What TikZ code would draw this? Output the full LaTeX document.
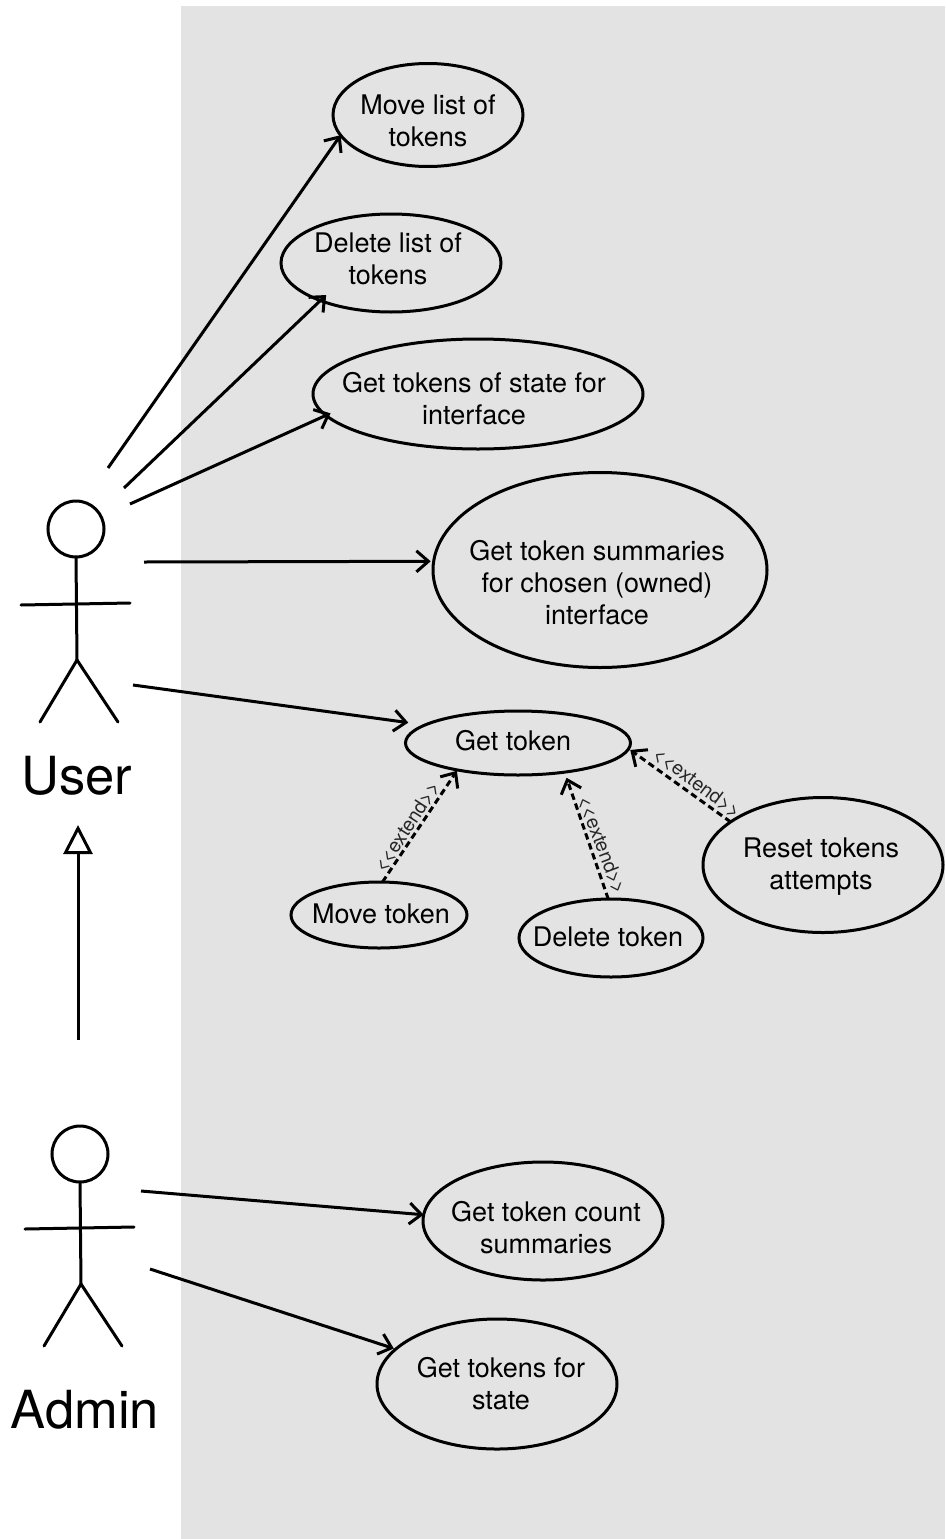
\documentclass[tikz,border=0pt]{standalone}
\usepackage{fontspec}
\setmainfont{TeX Gyre Heros}
\usetikzlibrary{shapes.geometric,arrows.meta}
\tikzset{
  x=1pt,y=-1pt,
  base/.style={line width=3pt,draw=black},
  usecase/.style={ellipse,base,inner sep=0pt,outer sep=0pt},
  uctext/.style={align=center,inner sep=0pt,font=\fontsize{27}{32}\selectfont,text=black},
  actorname/.style={inner sep=0pt,font=\fontsize{52.5}{56}\selectfont,text=black},
  extlabel/.style={inner sep=0pt,font=\fontsize{19.5}{21}\selectfont,text=black!85},
  stick/.style={base,line cap=round},
  assoc/.style={base,-{Straight Barb[length=12pt,width=21pt,line width=3pt]}},
  extendarrow/.style={base,dash pattern=on 6.5pt off 4pt,-{Straight Barb[length=12pt,width=21pt,line width=3pt]}},
  general/.style={base,-{Triangle[open,length=29pt,width=29pt,line width=3pt]}},
}
\newcommand{\usecasenode}[8]{%
  \node[usecase,minimum width=#4pt,minimum height=#5pt] (#1) at (#2,#3) {};
  \node[uctext] (#1-text) at (#6,#7) {#8};}
\begin{document}
\begin{tikzpicture}
\useasboundingbox (0,0) rectangle (945,1539);
\fill[white] (0,0) rectangle (945,1539);
\fill[black!11] (181,6) rectangle (945,1539);

\usecasenode{movelist}{428}{115}{190}{103}{428}{121}{Move list of\\tokens}
\usecasenode{deletelist}{391}{263}{220}{98}{388}{259}{Delete list of\\tokens}
\usecasenode{stateiface}{478}{394}{330}{110}{474}{399}{Get tokens of state for\\interface}
\usecasenode{summaries}{600}{570}{334}{195}{597}{583}{Get token summaries\\for chosen (owned)\\interface}
\usecasenode{gettoken}{518}{743}{225}{64}{513}{741}{Get token}
\usecasenode{movetoken}{379}{915}{176}{66}{381}{914}{Move token}
\usecasenode{deletetoken}{611}{938}{184}{78}{608}{937}{Delete token}
\usecasenode{reset}{823}{865}{240}{135}{821}{867}{Reset tokens\\attempts}
\usecasenode{countsum}{543}{1221}{240}{118}{546}{1228}{Get token count\\summaries}
\usecasenode{forstate}{497}{1384}{240}{130}{501}{1384}{Get tokens for\\state}

% User actor
\node[circle,base,inner sep=0pt,outer sep=0pt,minimum size=56pt] (userhead) at (76,529) {};
\coordinate (userhip) at (77,660);
\coordinate (userarmL) at (21,605);
\coordinate (userarmR) at (130,603);
\coordinate (userfootL) at (40,722);
\coordinate (userfootR) at (118,722);
\draw[stick] (userhead.south) -- (userhip);
\draw[stick] (userarmL) -- (userarmR);
\draw[stick] (userfootL) -- (userhip) -- (userfootR);
\node[actorname] (username) at (77,776) {User};

% Admin actor
\node[circle,base,inner sep=0pt,outer sep=0pt,minimum size=56pt] (adminhead) at (80,1154) {};
\coordinate (adminhip) at (81,1284);
\coordinate (adminarmL) at (25,1229);
\coordinate (adminarmR) at (134,1227);
\coordinate (adminfootL) at (44,1346);
\coordinate (adminfootR) at (122,1346);
\draw[stick] (adminhead.south) -- (adminhip);
\draw[stick] (adminarmL) -- (adminarmR);
\draw[stick] (adminfootL) -- (adminhip) -- (adminfootR);
\node[actorname] (adminname) at (85,1410) {Admin};

% Association starts
\coordinate (u1) at (108,468);
\coordinate (u2) at (124,488);
\coordinate (u3) at (130,504);
\coordinate (u4) at (144,562);
\coordinate (u5) at (133,685);
\coordinate (a1) at (141,1191);
\coordinate (a2) at (150,1269);
\coordinate (genstart) at (78,1040);
\coordinate (genend) at (78,825);

\draw[assoc] (u1) -- (movelist.193.2);
\draw[assoc,shorten >=-8pt] (u2) -- (deletelist.208);
\draw[assoc,shorten >=-5pt] (u3) -- (stateiface.188.1);
\draw[assoc,shorten >=3pt] (u4) -- (summaries.177.3);
\draw[assoc,shorten >=17pt] (u5) -- (gettoken.169.9);
\draw[assoc] (a1) -- (countsum.177.6);
\draw[assoc,shorten >=2pt] (a2) -- (forstate.161.9);
\draw[general] (genstart) -- (genend);

\draw[extendarrow,shorten >=1pt] (movetoken.84.8) -- (gettoken.204.2);
\draw[extendarrow,shorten >=6pt] (deletetoken.94.4) -- (gettoken.328.3);
\draw[extendarrow,shorten >=2pt] (reset.155.9) -- (gettoken.357);

\node[extlabel,rotate=57] (ext1) at (407,827) {<{}<extend>{}>};
\node[extlabel,rotate=-69] (ext2) at (602,845) {<{}<extend>{}>};
\node[extlabel,rotate=-36.7] (ext3) at (697,783) {<{}<extend>{}>};
\end{tikzpicture}
\end{document}
